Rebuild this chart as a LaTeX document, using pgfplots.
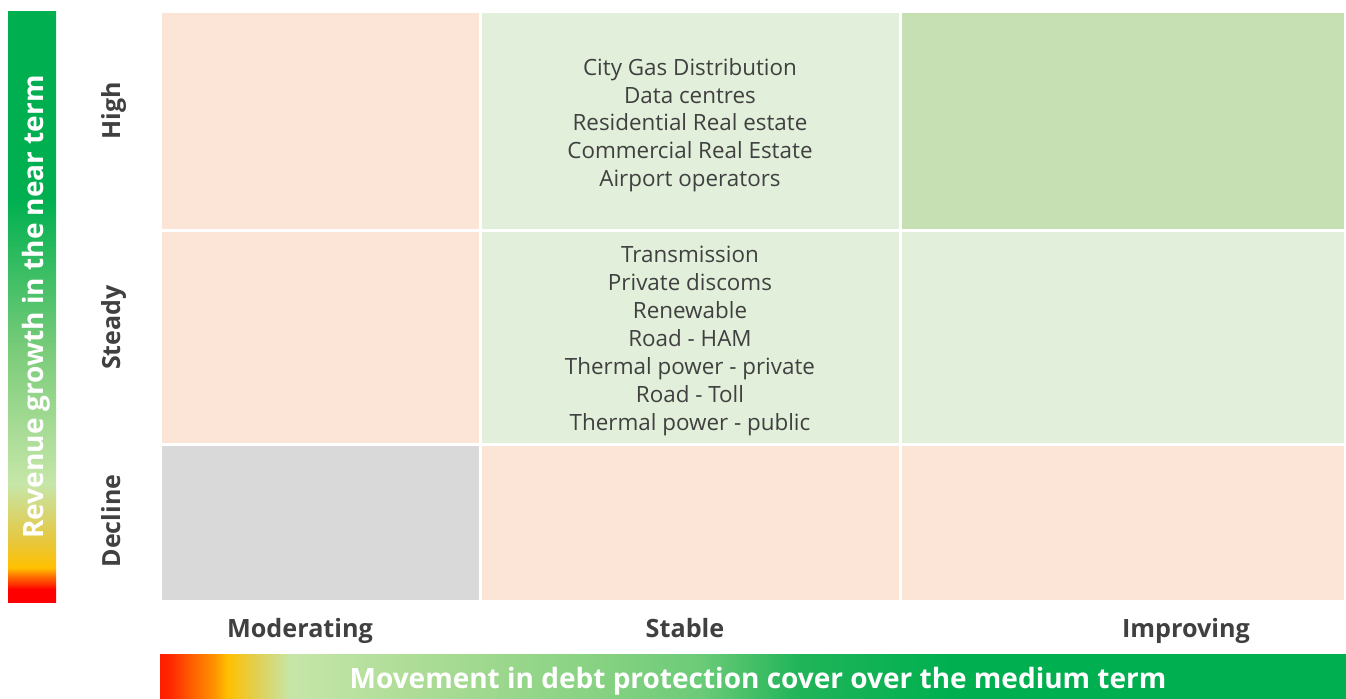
\documentclass[border=0pt]{standalone}
\usepackage{pgfplots}
\pgfplotsset{compat=1.18}
\usepackage{fontspec}
\setmainfont{Open Sans}
\definecolor{peach}{HTML}{FCE4D6}
\definecolor{lgreen}{HTML}{E2EFDA}
\definecolor{dgreen}{HTML}{C6E0B4}
\definecolor{cgrey}{HTML}{D9D9D9}
\definecolor{txt}{HTML}{404040}
\definecolor{hA}{HTML}{FF1E00}
\definecolor{hB}{HTML}{FF2800}
\definecolor{hC}{HTML}{FF5A00}
\definecolor{hD}{HTML}{FF9400}
\definecolor{hE}{HTML}{FFC000}
\definecolor{hF}{HTML}{E2CF4E}
\definecolor{hG}{HTML}{C6E6A8}
\definecolor{hH}{HTML}{A6DA92}
\definecolor{hI}{HTML}{86D282}
\definecolor{hJ}{HTML}{6CCB78}
\definecolor{hK}{HTML}{20B458}
\definecolor{hL}{HTML}{00B050}
\definecolor{vA}{HTML}{FF0000}
\definecolor{vB}{HTML}{FF3000}
\definecolor{vC}{HTML}{FF7000}
\definecolor{vD}{HTML}{FFC000}
\definecolor{vE}{HTML}{E6C840}
\definecolor{vF}{HTML}{C6E6A8}
\definecolor{vG}{HTML}{7ACC7A}
\definecolor{vH}{HTML}{00B050}
\pgfdeclarehorizontalshading{hbar}{100bp}{color(0bp)=(hA); color(25bp)=(hA); color(25.42bp)=(hB); color(26.25bp)=(hC); color(27.3bp)=(hD); color(27.85bp)=(hE); color(29bp)=(hF); color(30.5bp)=(hG); color(37.25bp)=(hH); color(43.5bp)=(hI); color(47.75bp)=(hJ); color(52bp)=(hK); color(58.3bp)=(hL); color(75bp)=(hL); color(100bp)=(hL)}
\pgfdeclareverticalshading{vbar}{100bp}{color(0bp)=(vA); color(25bp)=(vA); color(26.1bp)=(vA); color(26.5bp)=(vB); color(27.2bp)=(vC); color(27.9bp)=(vD); color(30.25bp)=(vE); color(35bp)=(vF); color(46.3bp)=(vG); color(59bp)=(vH); color(75bp)=(vH); color(100bp)=(vH)}
\begin{document}
\begin{tikzpicture}[every node/.style={inner sep=0pt}]
\begin{axis}[x=0.5pt, y=0.5pt, xmin=0, xmax=1346, ymin=0, ymax=698,
  y dir=reverse, hide axis, clip=false]
\path (rel axis cs:0,0) rectangle (rel axis cs:1,1);
% grid cells
\addplot[draw=none, fill=peach] coordinates {(162,13) (479,13) (479,229) (162,229)};
\addplot[draw=none, fill=lgreen] coordinates {(482,13) (899,13) (899,229) (482,229)};
\addplot[draw=none, fill=dgreen] coordinates {(902,13) (1344,13) (1344,229) (902,229)};
\addplot[draw=none, fill=peach] coordinates {(162,232) (479,232) (479,443) (162,443)};
\addplot[draw=none, fill=lgreen] coordinates {(482,232) (899,232) (899,443) (482,443)};
\addplot[draw=none, fill=lgreen] coordinates {(902,232) (1344,232) (1344,443) (902,443)};
\addplot[draw=none, fill=cgrey] coordinates {(162,446) (479,446) (479,600) (162,600)};
\addplot[draw=none, fill=peach] coordinates {(482,446) (899,446) (899,600) (482,600)};
\addplot[draw=none, fill=peach] coordinates {(902,446) (1344,446) (1344,600) (902,600)};
% gradient bars
\addplot[draw=none, shade, shading=vbar] coordinates {(8,11) (56,11) (56,602) (8,602)};
\addplot[draw=none, shade, shading=hbar] coordinates {(160,654) (1346,654) (1346,698) (160,698)};
% cell texts
\node[text=txt, align=center, font=\fontsize{11.2}{13.9}\selectfont] at (axis cs:690,125)
  {City Gas Distribution\\Data centres\\Residential Real estate\\Commercial Real Estate\\Airport operators};
\node[text=txt, align=center, font=\fontsize{11.2}{14}\selectfont] at (axis cs:690,341)
  {Transmission\\Private discoms\\Renewable\\Road - HAM\\Thermal power - private\\Road - Toll\\Thermal power - public};
% row labels
\node[text=txt, rotate=90, anchor=base, font=\fontsize{12.5}{14}\selectfont\bfseries] at (axis cs:120,110.5) {High};
\node[text=txt, rotate=90, anchor=base, font=\fontsize{12.5}{14}\selectfont\bfseries] at (axis cs:120,327.5) {Steady};
\node[text=txt, rotate=90, anchor=base, font=\fontsize{12.5}{14}\selectfont\bfseries] at (axis cs:120,521) {Decline};
% column labels
\node[text=txt, anchor=base, font=\fontsize{12.6}{14}\selectfont\bfseries] at (axis cs:300,637) {Moderating};
\node[text=txt, anchor=base, font=\fontsize{12.6}{14}\selectfont\bfseries] at (axis cs:685,637) {Stable};
\node[text=txt, anchor=base, font=\fontsize{12.6}{14}\selectfont\bfseries] at (axis cs:1186,637) {Improving};
% bar titles
\node[text=white, rotate=90, anchor=base, font=\fontsize{14}{16}\selectfont\bfseries] at (axis cs:43,307) {Revenue growth in the near term};
\node[text=white, anchor=base, font=\fontsize{14}{16}\selectfont\bfseries] at (axis cs:758,688) {Movement in debt protection cover over the medium term};
\end{axis}
\end{tikzpicture}
\end{document}
